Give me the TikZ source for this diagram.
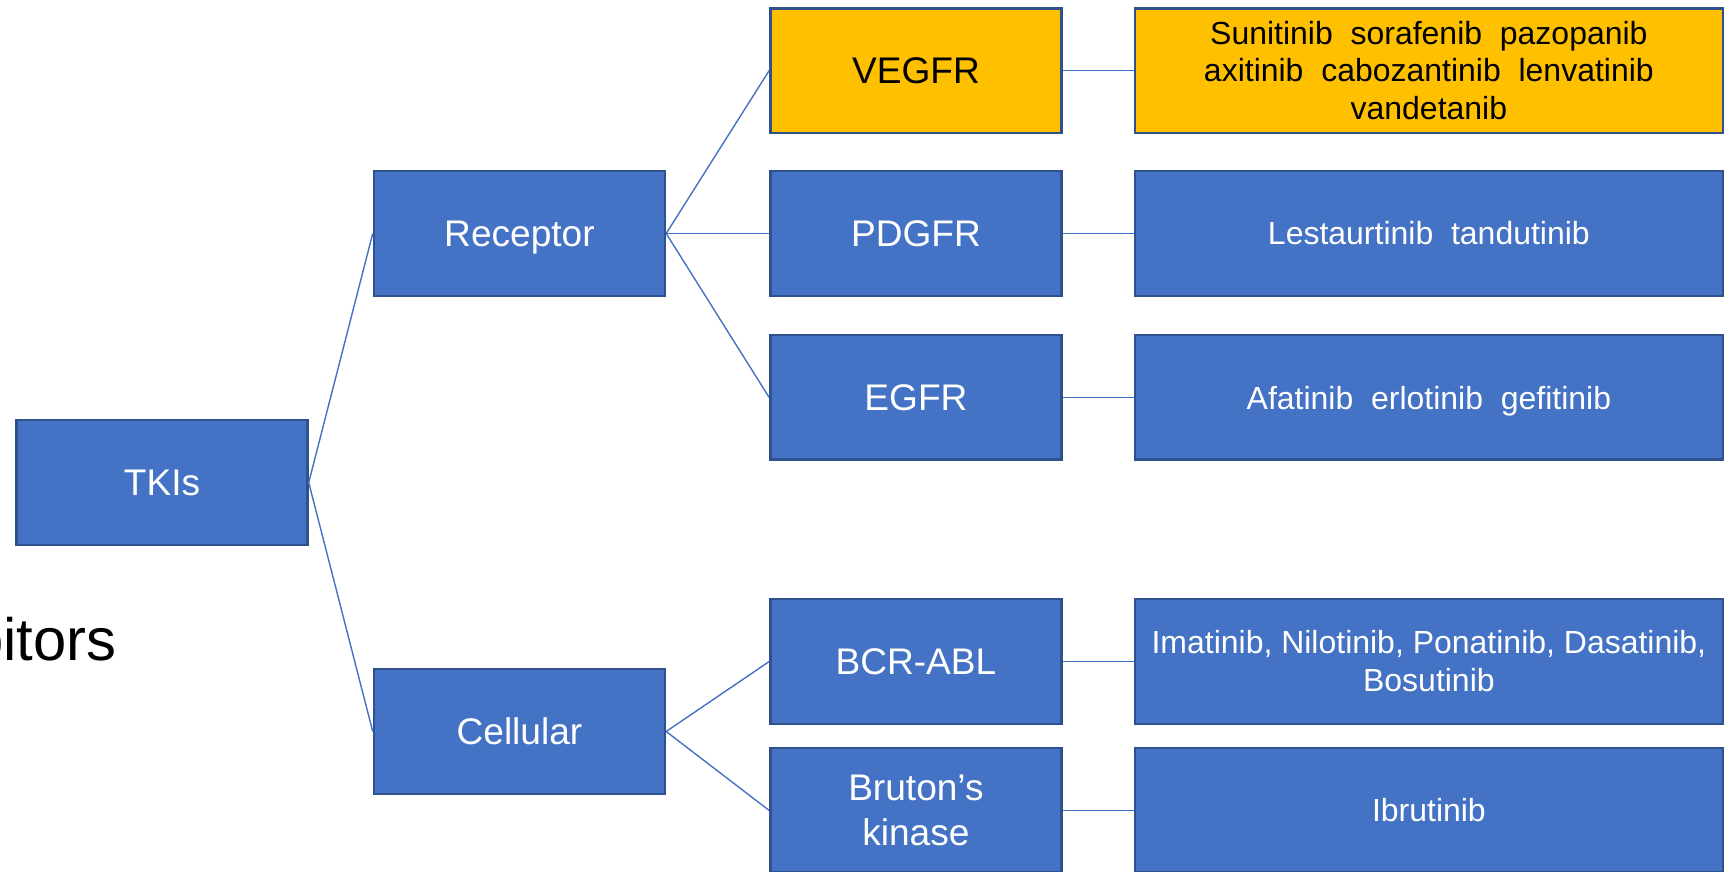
\documentclass[tikz,border=0pt]{standalone}
\usepackage{fontspec}
\setmainfont{Liberation Sans}
\usetikzlibrary{positioning}

\definecolor{accentblue}{HTML}{4472C4}
\definecolor{edgeblue}{HTML}{2F528F}
\definecolor{gold}{HTML}{FFC000}

\begin{document}
\begin{tikzpicture}[
    box/.style={draw=edgeblue, line width=0.7pt, fill=accentblue, text=white, rectangle,
        minimum width=2.91cm, minimum height=1.245cm, inner sep=0pt, align=center,
        font=\fontsize{10.55}{13}\selectfont},
    hibox/.style={box, fill=gold, text=black},
    drug/.style={box, minimum width=5.88cm, font=\fontsize{9.1}{10.8}\selectfont},
    hidrug/.style={drug, fill=gold, text=black},
    link/.style={draw=accentblue, line width=0.4pt}]
    \useasboundingbox (0,0) rectangle (17.29,-8.72);
    % Tree of TKI classes
    \node[box] (tkis) at (1.62,-4.825) {TKIs};
    \node[box, text depth=0pt, right=0.64cm of tkis, yshift=2.49cm] (receptor) {Receptor};
    \node[box, right=0.64cm of tkis, yshift=-2.49cm] (cellular) {Cellular};
    \node[box, right=1.03cm of receptor] (pdgfr) {PDGFR};
    \node[hibox, above=0.36cm of pdgfr] (vegfr) {VEGFR};
    \node[box, below=0.37cm of pdgfr] (egfr) {EGFR};
    \node[box, right=1.03cm of cellular, yshift=0.7cm] (bcrabl) {BCR-ABL};
    \node[box, below=0.22cm of bcrabl] (btk) {Bruton’s\\kinase};
    % Drug boxes
    \node[hidrug, right=0.71cm of vegfr] (vegfrdrugs) {Sunitinib~ sorafenib~ pazopanib\\axitinib~ cabozantinib~ lenvatinib\\vandetanib};
    \node[drug, right=0.71cm of pdgfr] (pdgfrdrugs) {Lestaurtinib~ tandutinib};
    \node[drug, text depth=0pt, right=0.71cm of egfr] (egfrdrugs) {Afatinib~ erlotinib~ gefitinib};
    \node[drug, right=0.71cm of bcrabl] (bcrabldrugs) {Imatinib, Nilotinib, Ponatinib, Dasatinib,\\Bosutinib};
    \node[drug, right=0.71cm of btk] (btkdrugs) {Ibrutinib};
    % Cut-off title text
    \node[anchor=base east, inner sep=0pt, font=\fontsize{17}{20}\selectfont] (inhib) at (1.17,-6.60) {bitors};

    \draw[link] (tkis.east) -- (receptor.west);
    \draw[link] (tkis.east) -- (cellular.west);
    \draw[link] (receptor.east) -- (vegfr.west);
    \draw[link] (receptor.east) -- (pdgfr.west);
    \draw[link] (receptor.east) -- (egfr.west);
    \draw[link] (cellular.east) -- (bcrabl.west);
    \draw[link] (cellular.east) -- (btk.west);
    \draw[link] (vegfr) -- (vegfrdrugs);
    \draw[link] (pdgfr) -- (pdgfrdrugs);
    \draw[link] (egfr) -- (egfrdrugs);
    \draw[link] (bcrabl) -- (bcrabldrugs);
    \draw[link] (btk) -- (btkdrugs);
\end{tikzpicture}
\end{document}
